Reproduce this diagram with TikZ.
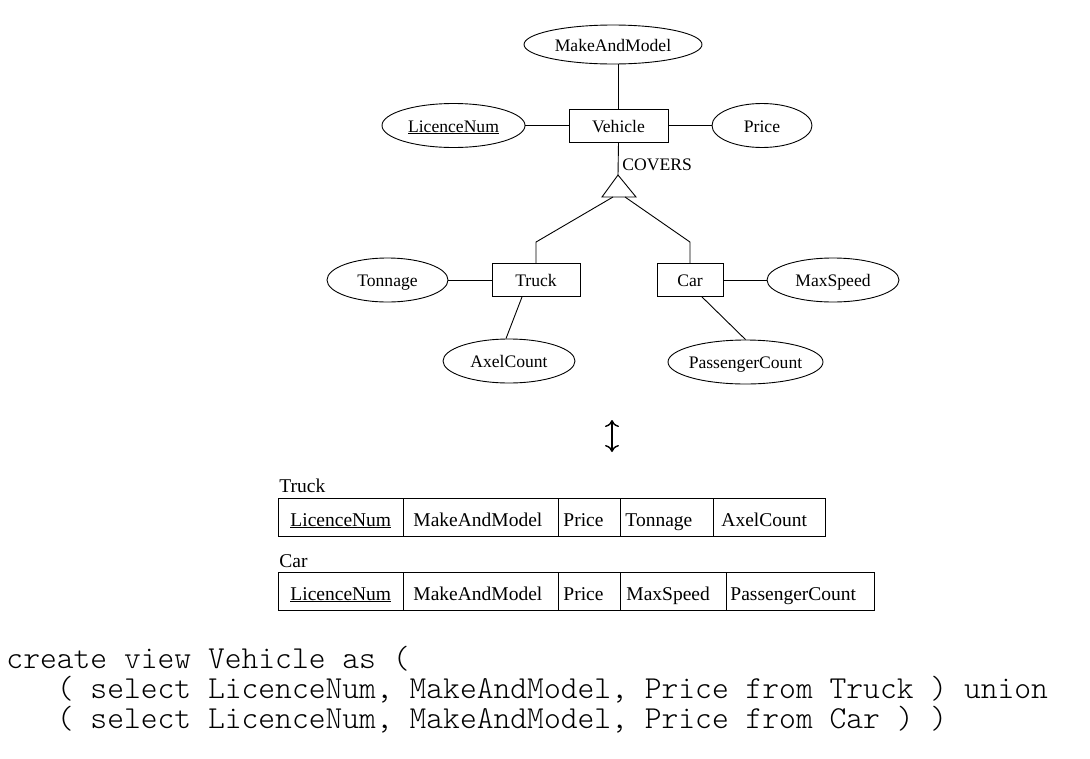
\documentclass[tikz,border=0pt]{standalone}
\usepackage{fontspec}
\setmainfont{Liberation Serif}
\newfontfamily\codefam{lmmonolt10-regular.otf}
\usetikzlibrary{shapes.geometric,arrows.meta}
\newcommand\erfont{\fontsize{17.6}{20}\selectfont}
\newcommand\tbfont{\fontsize{19.5}{22}\selectfont}
\newcommand\codefont{\fontsize{32}{34}\selectfont\codefam\frenchspacing}
\begin{document}
\begin{tikzpicture}[x=1pt,y=-1pt,line width=0.9pt,
  attr/.style={ellipse,draw,inner sep=0pt,font=\erfont,text height=15pt,text depth=2pt},
  ent/.style={rectangle,draw,inner sep=0pt,font=\erfont,minimum height=33pt,text height=15pt,text depth=2pt},
  lbl/.style={inner sep=0pt,anchor=base west},
  cellt/.style={inner sep=0pt,anchor=base west,font=\tbfont},
  codeline/.style={inner sep=0pt,anchor=base west,font=\codefont},
  udarrow/.style={line width=1.4pt,{Computer Modern Rightarrow[length=7pt,width=14pt]}-{Computer Modern Rightarrow[length=7pt,width=14pt]}}]
\useasboundingbox (0,0) rectangle (1090,758);

% ---------- ER diagram ----------
\node[attr,minimum width=178pt,minimum height=39pt] (mam) at (613,44.5) {MakeAndModel};
\node[ent,minimum width=99pt] (veh) at (618.5,125.5) {Vehicle};
\node[attr,minimum width=143pt,minimum height=44pt] (lic) at (453.5,125.5) {\underline{LicenceNum}};
\node[attr,minimum width=100pt,minimum height=44pt] (price) at (762,125.5) {Price};
\node[lbl,font=\erfont] (covers) at (622,170) {COVERS};

\coordinate (isa) at (618,175);
\coordinate (isaBL) at (602,197);
\coordinate (isaBR) at (636,197);
\coordinate (isaL) at (613,197);
\coordinate (isaR) at (625,197);
\draw (isa) -- (isaBL) -- (isaBR) -- cycle;

\node[ent,minimum width=88pt] (truck) at (536,280) {Truck};
\node[ent,minimum width=66pt] (car) at (690,280) {Car};
\node[attr,minimum width=121pt,minimum height=44pt] (ton) at (387.5,280) {Tonnage};
\node[attr,minimum width=132pt,minimum height=44pt] (ms) at (833,280) {MaxSpeed};
\node[attr,minimum width=132pt,minimum height=44pt] (axel) at (509,361) {AxelCount};
\node[attr,minimum width=155pt,minimum height=44pt] (pc) at (745.5,362) {\makebox[100pt]{PassengerCount}};

\draw (veh.north) -- (veh.north |- mam.south);
\draw (lic) -- (veh);
\draw (veh) -- (price);
\draw (veh.south) -- (isa);
\draw (isaL) -- ([yshift=21pt]truck.north) -- (truck.north);
\draw (isaR) -- ([yshift=21pt]car.north) -- (car.north);
\draw (ton) -- (truck);
\draw (car) -- (ms);
\draw ([xshift=-14pt]truck.south) -- ([xshift=-3pt]axel.north);
\draw ([xshift=12pt]car.south) -- (pc.north);

% ---------- up-down arrow ----------
\coordinate (udtop) at (612,420);
\coordinate (udbot) at (612,452);
\draw[udarrow] (udtop) -- (udbot);

% ---------- tables ----------
\node[lbl,font=\tbfont] (truckname) at (279,492) {Truck};
\draw (278,498) rectangle (825,536);
\foreach \x in {403,558,620,713} \draw (\x,498) -- (\x,536);
\node[cellt] (t1) at (290,526) {\underline{LicenceNum}};
\node[cellt] (t2) at (413,526) {MakeAndModel};
\node[cellt] (t3) at (563,526) {Price};
\node[cellt] (t4) at (625,526) {Tonnage};
\node[cellt] (t5) at (721,526) {AxelCount};

\node[lbl,font=\tbfont] (carname) at (279,567) {Car};
\draw (278,572) rectangle (874,610);
\foreach \x in {403,558,620,726} \draw (\x,572) -- (\x,610);
\node[cellt] (c1) at (290,600) {\underline{LicenceNum}};
\node[cellt] (c2) at (413,600) {MakeAndModel};
\node[cellt] (c3) at (563,600) {Price};
\node[cellt] (c4) at (626,600) {MaxSpeed};
\node[cellt] (c5) at (730,600) {PassengerCount};

% ---------- SQL ----------
\node[codeline] (l1) at (6,668) {create view Vehicle as (};
\node[codeline] (l2) at (56.4,698) {( select LicenceNum, MakeAndModel, Price from Truck ) union};
\node[codeline] (l3) at (56.4,728) {( select LicenceNum, MakeAndModel, Price from Car ) )};
\end{tikzpicture}
\end{document}
